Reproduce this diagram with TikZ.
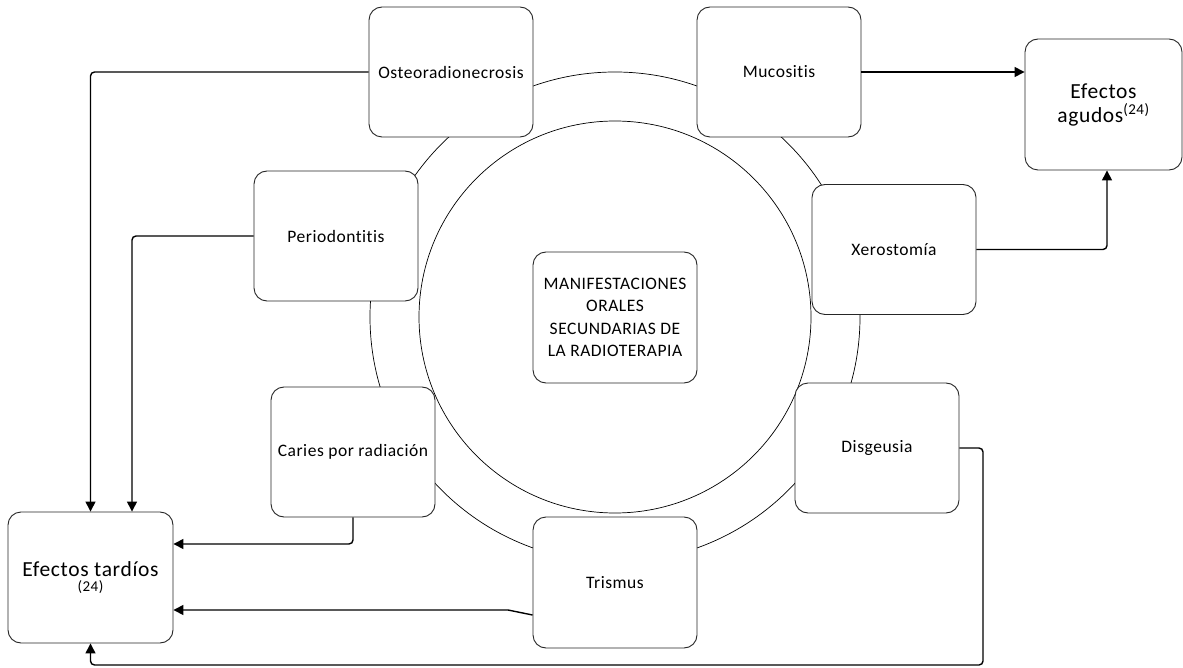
\documentclass[tikz,border=0pt]{standalone}
\usepackage{fontspec}
\setmainfont{Carlito}[Ligatures=NoCommon, LetterSpace=3]
\usetikzlibrary{arrows.meta,calc}

\tikzset{
  item/.style={draw=black!85, line width=0.9pt, fill=white, rounded corners=13pt,
    minimum width=164pt, minimum height=130pt, inner sep=0pt, align=center,
    font=\fontsize{17.5}{22.5}\selectfont},
  effect/.style={item, font=\fontsize{21.5}{24}\selectfont},
  ring/.style={draw=black, line width=0.7pt},
  conn/.style={draw=black, line width=1.4pt, rounded corners=4pt,
    -{Triangle[width=10pt,length=10pt]}},
}

\begin{document}
\begin{tikzpicture}[x=1pt,y=-1pt]
  \useasboundingbox (0,0) rectangle (1183,668);

  % concentric rings around the central theme
  \coordinate (hub) at (615,317);
  \draw[ring] (hub) circle[radius=245pt];
  \draw[ring, fill=white] (hub) circle[radius=196pt];

  % central theme
  \node[item, minimum height=131pt] (centre) at (615,317.5)
    {MANIFESTACIONES\\ORALES\\SECUNDARIAS DE\\LA RADIOTERAPIA};

  % oral manifestations placed on the outer ring
  \node[item] (osteo)   at (451,72)    {Osteoradionecrosis};
  \node[item] (muco)    at (779,72)    {Mucositis};
  \node[item] (perio)   at (336,236)   {Periodontitis};
  \node[item] (xero)    at (894,249.5) {Xerostomía};
  \node[item] (caries)  at (353,452)   {Caries por radiación};
  \node[item] (disg)    at (877,448)   {Disgeusia};
  \node[item, minimum height=131pt] (trismus) at (615,582.5) {Trismus};

  % groups of effects
  \node[effect, minimum width=157pt, minimum height=131pt] (agudos) at (1103.5,104.5)
    {Efectos\\agudos\textsuperscript{(24)}};
  \node[effect, minimum width=165pt, minimum height=131pt] (tardios) at (90.5,577.5)
    {Efectos tardíos\\[-9pt]{\fontsize{15}{16}\selectfont (24)}};

  % routing points
  \coordinate (tbend) at (508,610);
  \coordinate (dcorner) at (983,665);

  % acute effects
  \draw[conn] (muco.east) -- (muco.east -| agudos.west);
  \draw[conn] (xero.east) -| ([xshift=3.5pt]agudos.south);

  % late effects
  \draw[conn] (osteo.west) -| (tardios.north);
  \draw[conn] (perio.west) -| ([xshift=41.5pt]tardios.north);
  \draw[conn] (caries.south) |- ([yshift=33.5pt]tardios.east);
  \draw[conn, rounded corners=0pt] ([yshift=-32.5pt]trismus.west) -- (tbend)
    -- ([yshift=-32.5pt]tardios.east);
  \draw[conn] (disg.east) -| (dcorner) -| (tardios.south);
\end{tikzpicture}
\end{document}
